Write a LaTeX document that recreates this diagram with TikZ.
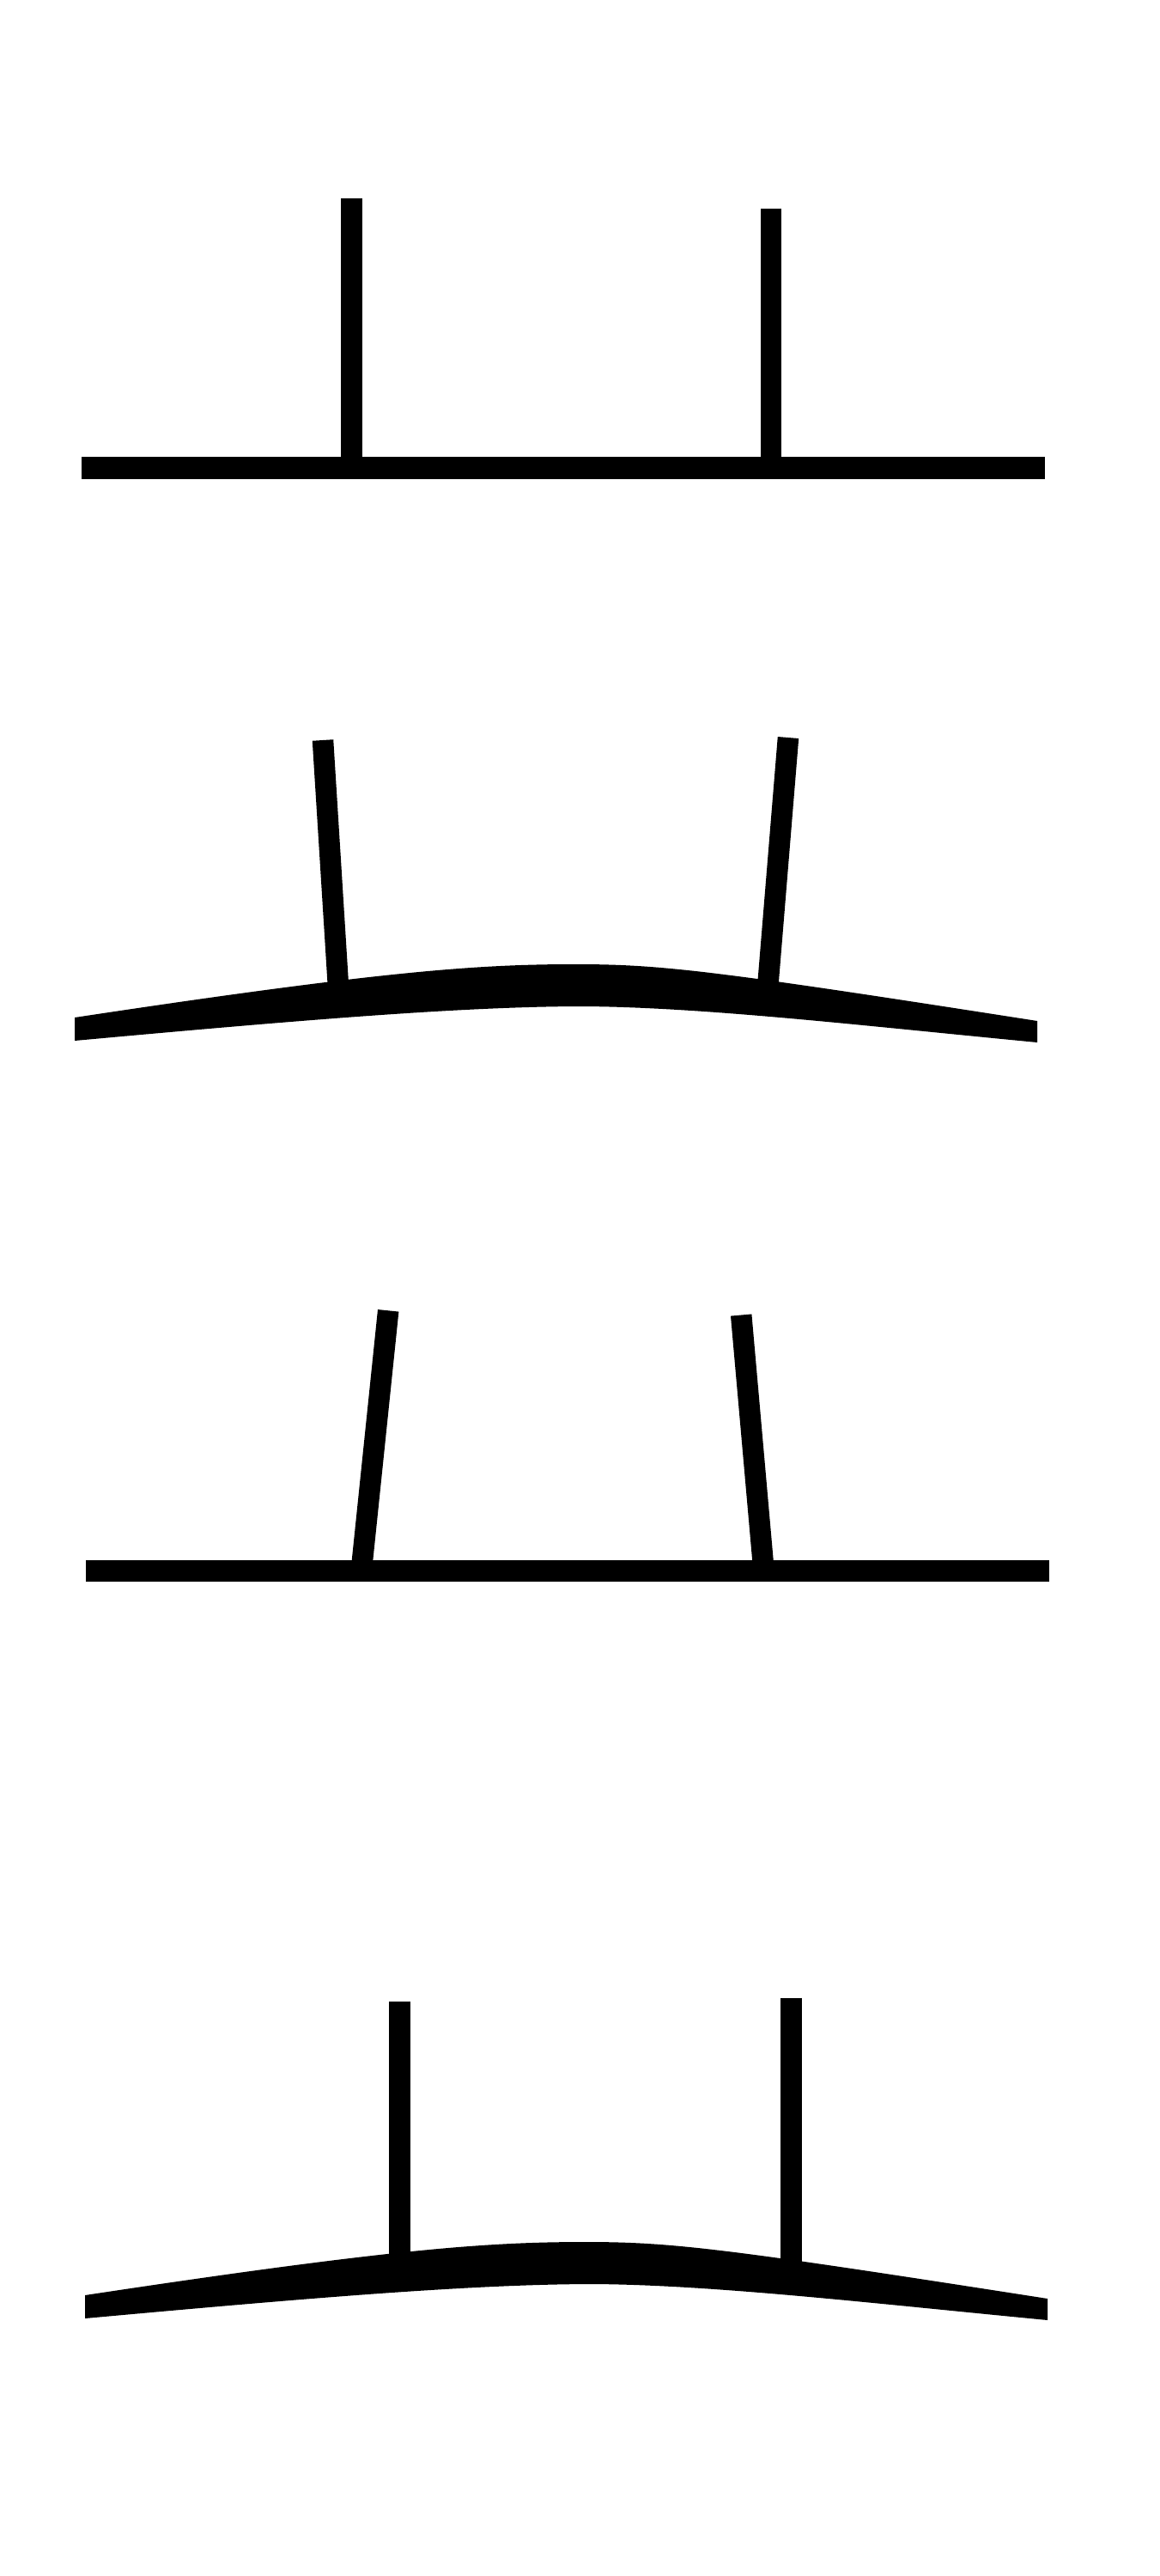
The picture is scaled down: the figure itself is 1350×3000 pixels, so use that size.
\documentclass[tikz,border=0pt]{standalone}
\usepackage{tikz}
\tikzset{
%Define standard styles for the frame parts
bar/.style={line width=2.5mm, line cap=butt},
post/.style={line width=2.45mm, line cap=butt},
beam/.style={fill=black},
}

\begin{document}
\begin{tikzpicture}[x=0.01cm, y=-0.01cm]
    % Page
    \fill[white] (0,0) rectangle (1350,3000);
    \useasboundingbox (0,0) rectangle (1350,3000);

    % Straight beam, upright posts
    \coordinate (left1) at (95,545);
    \coordinate (right1) at (1217,545);
    \coordinate (top1l) at (409.5,231);
    \coordinate (foot1l) at (409.5,545);
    \coordinate (top1r) at (898,243);
    \coordinate (foot1r) at (898,545);
    \draw[post] (top1l) -- (foot1l);
    \draw[post] (top1r) -- (foot1r);
    \draw[bar] (left1) -- (right1);

    % Bent beam, posts leaning out
    \coordinate (top2l) at (376,862);
    \coordinate (foot2l) at (395,1165);
    \coordinate (top2r) at (918,859);
    \coordinate (foot2r) at (893.3,1160);
    \draw[post] (top2l) -- (foot2l);
    \draw[post] (top2r) -- (foot2r);
    \fill[beam] (87,1185) .. controls (450,1130) and (560,1123) .. (670,1123)
        .. controls (770,1123) and (830,1130) .. (1208,1189) -- (1208,1214)
        .. controls (1000,1194) and (820,1173) .. (680,1172)
        .. controls (540,1172) and (350,1188) .. (87,1212) -- cycle;

    % Straight beam, posts leaning in
    \coordinate (left3) at (100,1829);
    \coordinate (right3) at (1222,1829);
    \coordinate (top3l) at (452.2,1526.3);
    \coordinate (foot3l) at (420.8,1829);
    \coordinate (top3r) at (863.2,1531.5);
    \coordinate (foot3r) at (889.5,1829);
    \draw[post] (top3l) -- (foot3l);
    \draw[post] (top3r) -- (foot3r);
    \draw[bar] (left3) -- (right3);

    % Bent beam, upright posts
    \coordinate (top4l) at (465.6,2331);
    \coordinate (foot4l) at (465.6,2650);
    \coordinate (top4r) at (921.7,2326.7);
    \coordinate (foot4r) at (921.7,2650);
    \draw[post] (top4l) -- (foot4l);
    \draw[post] (top4r) -- (foot4r);
    \fill[beam] (99,2673) .. controls (462,2618) and (572,2611) .. (682,2611)
        .. controls (782,2611) and (842,2618) .. (1220,2677) -- (1220,2702)
        .. controls (1012,2682) and (832,2661) .. (692,2660)
        .. controls (552,2660) and (362,2676) .. (99,2700) -- cycle;
\end{tikzpicture}
\end{document}
